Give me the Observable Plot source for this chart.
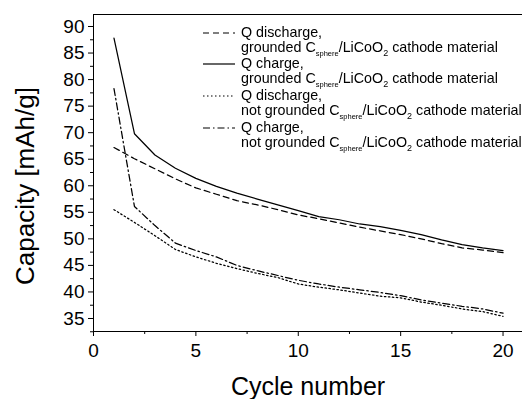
<!DOCTYPE html>
<html>
<head>
<meta charset="utf-8">
<script src="https://cdn.jsdelivr.net/npm/d3@7"></script>
<script src="https://cdn.jsdelivr.net/npm/@observablehq/plot@0.6"></script>
<style>
  html, body { margin: 0; padding: 0; background: #fff; }
  #wrap { position: relative; width: 522px; height: 399px; font-family: "Liberation Sans", Arial, sans-serif; color: #000; }
  #legend { position: absolute; left: 0; top: 0; width: 522px; height: 399px; pointer-events: none; will-change: transform; -webkit-font-smoothing: antialiased; }
  .entry { position: absolute; left: 203px; font-size: 14.3px; line-height: 15px; color: #000; white-space: nowrap; }
  .entry svg { position: absolute; left: 0; top: 0; }
  .entry .txt { position: absolute; left: 38px; top: 0; }
  .sub { font-size: 7.5px; position: relative; top: 4px; line-height: 0; color: #000; }
  .sub2 { font-size: 9px; position: relative; top: 4px; line-height: 0; color: #000; }
  #ytitle { position: absolute; left: 25px; top: 186px; transform: translate(-50%, -50%) rotate(-90deg); font-size: 26px; white-space: nowrap; line-height: 1; }
</style>
</head>
<body>
<div id="wrap"></div>
<script>
const cycles = d3.range(1, 21);
const qChargeGrounded =    [87.8, 69.8, 65.8, 63.3, 61.4, 59.9, 58.6, 57.5, 56.4, 55.3, 54.2, 53.6, 52.8, 52.3, 51.6, 50.8, 49.8, 48.9, 48.3, 47.8];
const qDischargeGrounded = [67.2, 65.1, 63.2, 61.3, 59.6, 58.4, 57.2, 56.4, 55.5, 54.5, 53.8, 53.0, 52.2, 51.5, 50.8, 50.0, 49.1, 48.3, 47.9, 47.4];
const qChargeNot =         [78.3, 56.1, 52.5, 49.2, 47.8, 46.6, 45.0, 44.0, 43.1, 42.2, 41.5, 40.9, 40.4, 39.9, 39.3, 38.5, 37.9, 37.3, 36.8, 36.0];
const qDischargeNot =      [55.5, 53.1, 50.6, 48.0, 46.6, 45.4, 44.4, 43.5, 42.7, 41.5, 40.9, 40.4, 39.8, 39.2, 38.9, 38.1, 37.5, 36.8, 36.3, 35.4];
const xTicks = [0, 5, 10, 15, 20];
const xMinor = [2.5, 7.5, 12.5, 17.5];
const yTicks = [35, 40, 45, 50, 55, 60, 65, 70, 75, 80, 85, 90];
const yMinor = [32.5, 37.5, 42.5, 47.5, 52.5, 57.5, 62.5, 67.5, 72.5, 77.5, 82.5, 87.5];
const xTitle = "Cycle number";
const yTitle = "Capacity [mAh/g]";

const series = [
  {key: "dg", values: qDischargeGrounded, dash: "6,4"},
  {key: "cg", values: qChargeGrounded, dash: null},
  {key: "dn", values: qDischargeNot, dash: "1.5,2.5"},
  {key: "cn", values: qChargeNot, dash: "7,3,1.5,3"}
];
const legendLines = [
  ["Q discharge,", "grounded"],
  ["Q charge,", "grounded"],
  ["Q discharge,", "not grounded"],
  ["Q charge,", "not grounded"]
];

const yMin = 32.55, yMax = 92.26;
const marks = [];
for (const s of series) {
  const data = cycles.map((c, i) => ({c, v: s.values[i]}));
  marks.push(Plot.line(data, {x: "c", y: "v", stroke: "black", strokeWidth: 1.25, strokeDasharray: s.dash}));
}
marks.push(
  Plot.ruleX([0], {stroke: "black", strokeWidth: 1}),
  Plot.ruleY([yMin], {stroke: "black", strokeWidth: 1}),
  Plot.ruleY([yMax], {stroke: "black", strokeWidth: 1}),
  Plot.axisX({ticks: xTicks, tickSize: 5, tickPadding: 7, fontSize: 19, label: null, tickFormat: d => d}),
  Plot.axisX({ticks: xMinor, tickSize: 3, tickFormat: () => "", label: null}),
  Plot.axisY({ticks: yTicks, tickSize: 5, tickPadding: 4, fontSize: 19, label: null, tickFormat: d => d}),
  Plot.axisY({ticks: yMinor, tickSize: 3, tickFormat: () => "", label: null}),
  Plot.text([xTitle], {frameAnchor: "bottom", dy: 63, fontSize: 25, fill: "black"})
);

const chart = Plot.plot({
  width: 522,
  height: 399,
  marginLeft: 93,
  marginRight: 0,
  marginTop: 14,
  marginBottom: 68,
  style: {fontFamily: "'Liberation Sans', Arial, sans-serif", color: "black", background: "white", overflow: "visible"},
  x: {domain: [0, 20.95]},
  y: {domain: [yMin, yMax]},
  marks
});
const wrap = document.getElementById("wrap");
wrap.appendChild(chart);

const yt = document.createElement("div");
yt.id = "ytitle";
yt.textContent = yTitle;
wrap.appendChild(yt);

const legend = document.createElement("div");
legend.id = "legend";
series.forEach((s, i) => {
  const e = document.createElement("div");
  e.className = "entry";
  e.style.top = (24.5 + i * 31.8) + "px";
  e.innerHTML = `<svg width="34" height="16"><line x1="0" x2="32" y1="8" y2="8" stroke="black" stroke-width="1.2" ${s.dash ? `stroke-dasharray="${s.dash}"` : ""}/></svg>` +
    `<div class="txt">${legendLines[i][0]}<br>${legendLines[i][1]} C<span class="sub">sphere</span>/LiCoO<span class="sub2">2</span> cathode material</div>`;
  legend.appendChild(e);
});
wrap.appendChild(legend);
</script>
</body>
</html>
